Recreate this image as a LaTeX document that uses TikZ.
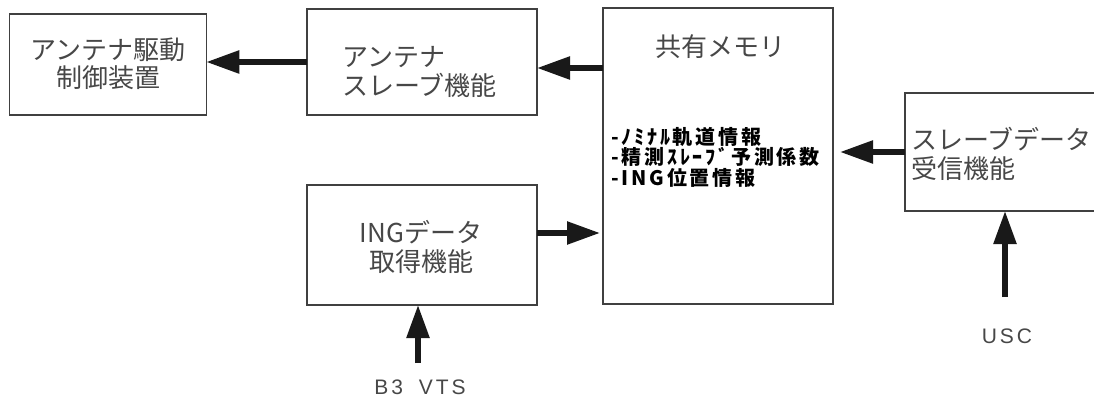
\documentclass[tikz,border=0pt]{standalone}
\usepackage{fontspec}
\setmainfont{Noto Sans CJK JP}
\newfontfamily\labfont[LetterSpace=14]{Liberation Sans}
\newfontfamily\bulfont[LetterSpace=14]{Noto Sans CJK JP}
\usetikzlibrary{arrows.meta}
\begin{document}
\begin{tikzpicture}[x=1pt,y=-1pt,
  box/.style={draw=black!75, line width=1.3pt, rectangle, inner sep=0pt, outer sep=0pt},
  txt/.style={text=black!72, font=\fontsize{26}{28.5}\selectfont, inner sep=0pt, align=center},
  ltxt/.style={txt, align=left},
  bul/.style={text=black, font=\bulfont\fontsize{20}{20.5}\selectfont\bfseries, inner sep=0pt, align=left},
  lab/.style={text=black!72, font=\labfont\fontsize{21}{22}\selectfont, inner sep=0pt},
  arr/.style={line width=5.5pt, draw=black!90, -{Triangle[length=33pt,width=22pt]}}]
\useasboundingbox (0,0) rectangle (1094,398);
\clip (0,0) rectangle (1094,398);
% boxes
\node[box, minimum width=196.5pt, minimum height=101pt] (b1) at (108,64.5) {};
\node[box, minimum width=230pt, minimum height=106pt] (b2) at (422,62) {};
\node[box, minimum width=230pt, minimum height=296pt] (b3) at (718,156) {};
\node[box, minimum width=210pt, minimum height=118pt] (b4) at (1010,152) {};
\node[box, minimum width=230pt, minimum height=120pt] (b5) at (422,245) {};
% texts
\node[txt] (t1) at (108,64) {アンテナ駆動\\制御装置};
\node[ltxt, anchor=west] (t2) at (342,72) {アンテナ\\スレーブ機能};
\node[txt] (t3) at (720,47) {共有メモリ};
\node[bul, anchor=north west] (t3b) at (611,127) {-ﾉﾐﾅﾙ軌道情報\\-精測ｽﾚｰﾌﾞ予測係数\\-ING位置情報};
\node[ltxt, anchor=west] (t4) at (911,154) {スレーブデータ\\受信機能};
\node[txt] (t5) at (421,247) {INGデータ\\取得機能};
% inputs
\node[lab] (vts) at (420,387) {B3\hspace{16pt}VTS};
\node[lab] (usc) at (1007,336) {USC};
\coordinate (vtsend) at (418,363);
\coordinate (uscend) at (1005,297);
% connectors
\draw[arr] (b2.west |- 0,62) -- (b1.east |- 0,62);
\draw[arr] (b3.west |- 0,68) -- (b2.east |- 0,68);
\draw[arr] (b4.west |- 0,152) -- ([xshift=7pt]b3.east |- 0,152);
\draw[arr] (b5.east |- 0,233) -- ([xshift=-3pt]b3.west |- 0,233);
\draw[arr] (vtsend) -- (vtsend |- b5.south);
\draw[arr] (uscend) -- (uscend |- b4.south);
\end{tikzpicture}
\end{document}
